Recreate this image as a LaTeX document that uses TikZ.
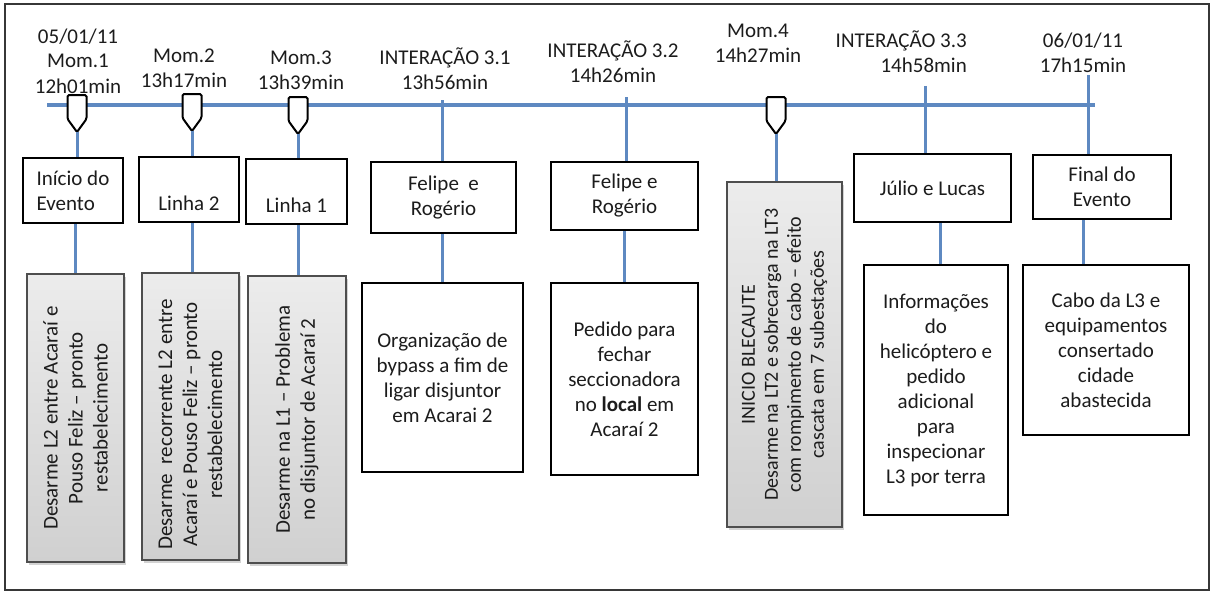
\documentclass[tikz,border=0pt]{standalone}
\usepackage{fontspec}
\setmainfont{Carlito}
\usetikzlibrary{shadows}

\definecolor{tlblue}{RGB}{94,137,193}
\definecolor{ink}{RGB}{28,28,28}
\definecolor{grayedge}{RGB}{78,78,78}
\definecolor{graytop}{RGB}{236,236,236}
\definecolor{graybot}{RGB}{208,208,208}
\definecolor{frameedge}{RGB}{55,55,55}

% pointer-shaped moment marker: #1 name of tip coordinate, #2 x, #3 top
\newcommand\momentmark[3]{%
  \draw[stamp] (#2-9.5,#3) -- (#2+9.5,#3) -- (#2+9.5,#3+24) -- (#2,#3+37)
    -- (#2-9.5,#3+24) -- cycle;
  \coordinate (#1) at (#2,#3+37);}

\begin{document}
\begin{tikzpicture}[x=1pt,y=-1pt,
  font=\fontsize{21}{25}\selectfont, text=ink,
  whitebox/.style={draw=black, line width=2.6pt, fill=white, inner sep=0pt, align=center},
  graybox/.style={draw=grayedge, line width=1.2pt, top color=graytop, bottom color=graybot,
    inner sep=0pt, drop shadow={shadow xshift=1.5pt, shadow yshift=-2.5pt, opacity=0.35}},
  vtext/.style={rotate=90, align=center, inner sep=0pt},
  stamp/.style={draw=black, line width=2pt, fill=white, rounded corners=1.5pt},
  link/.style={draw=tlblue, line width=3pt},
  stamplabel/.style={align=center, anchor=base, inner sep=0pt}
]
\useasboundingbox (0,0) rectangle (1213,594);
\draw[frameedge, line width=2.2pt] (5,4) rectangle (1209,590);

% time axis
\coordinate (tl-start) at (47,105);
\coordinate (tl-end) at (1095,105);
\draw[tlblue, line width=4pt] (tl-start) -- (tl-end);

% labels above the axis (placed by the baseline of their last line)
\node[stamplabel] (lab1) at (78,93) {05/01/11\\Mom.1\\12h01min};
\node[stamplabel] (lab2) at (184,88) {Mom.2\\13h17min};
\node[stamplabel] (lab3) at (301,89) {Mom.3\\13h39min};
\node[stamplabel] (lab4) at (445,89) {INTERAÇÃO 3.1\\13h56min};
\node[stamplabel] (lab5) at (613,83) {INTERAÇÃO 3.2\\14h26min};
\node[stamplabel] (lab6) at (758,63) {Mom.4\\14h27min};
\node[align=right, anchor=base east, inner sep=0pt] (lab7) at (967,73) {INTERAÇÃO 3.3\\14h58min};
\node[stamplabel] (lab8) at (1083,73) {06/01/11\\17h15min};

% upper boxes
\node[whitebox, align=left, minimum width=100, minimum height=65] (b1) at (73,190.5) {Início do\\Evento};
\node[whitebox, minimum width=100, minimum height=65] (b2) at (189,189.5) {\strut\\Linha 2};
\node[whitebox, minimum width=101, minimum height=65] (b3) at (296.5,191.5) {\strut\\Linha 1};
\node[whitebox, minimum width=145, minimum height=71] (b4) at (443.5,197.5) {Felipe\ \ e\\Rogério};
\node[whitebox, minimum width=147, minimum height=68] (b5) at (624.5,196) {Felipe e\\Rogério};
\node[whitebox, minimum width=157, minimum height=68] (b7) at (932.5,188) {Júlio e Lucas};
\node[whitebox, minimum width=138, minimum height=64] (b8) at (1102,187) {Final do\\Evento};

% shaded boxes with vertical text
\node[graybox, minimum width=97, minimum height=288] (gA) at (75.5,418) {};
\node[vtext] (tA) at (gA.center) {Desarme L2 entre Acaraí e\\Pouso Feliz – pronto\\restabelecimento};
\node[graybox, minimum width=97, minimum height=287] (gB) at (190.5,416.5) {};
\node[vtext] (tB) at ([yshift=-8pt]gB.center) {Desarme\ \ recorrente L2 entre\\Acaraí e Pouso Feliz – pronto\\restabelecimento};
\node[graybox, minimum width=98, minimum height=287] (gC) at (297,419.5) {};
\node[vtext] (tC) at (gC.center) {Desarme na L1 – Problema\\no disjuntor de Acaraí 2};
\node[graybox, minimum width=115, minimum height=345] (g6) at (784.5,354.5) {};
\node[vtext, font=\fontsize{20}{23}\selectfont] (t6) at (g6.center)
  {INICIO BLECAUTE\\Desarme na LT2 e sobrecarga na LT3\\com rompimento de cabo – efeito\\cascata em 7 subestações};

% lower boxes
\node[whitebox, minimum width=161, minimum height=189] (bD) at (442.5,377.5)
  {Organização de\\bypass a fim de\\ligar disjuntor\\em Acarai 2};
\node[whitebox, minimum width=147, minimum height=192] (bE) at (624.5,379)
  {Pedido para\\fechar\\seccionadora\\no \textbf{local} em\\Acaraí 2};
\node[whitebox, minimum width=144, minimum height=250] (bF) at (936,390)
  {Informações\\do\\helicóptero e\\pedido\\adicional\\para\\inspecionar\\L3 por terra};
\node[whitebox, minimum width=166, minimum height=170] (bG) at (1106,350)
  {Cabo da L3 e\\equipamentos\\consertado\\cidade\\abastecida};

% markers on the axis
\momentmark{m1}{77}{95}
\momentmark{m2}{192}{94}
\momentmark{m3}{298}{97}
\momentmark{m4}{776}{97}
\coordinate (i1) at (442,100);
\coordinate (i2) at (626,97);
\coordinate (i3) at (925,86);
\coordinate (i4) at (1088,75);

% connectors
\draw[link] (m1) -- (m1 |- b1.north);
\draw[link] (gA.north |- b1.south) -- (gA.north);
\draw[link] (m2) -- (m2 |- b2.north);
\draw[link] (m2 |- b2.south) -- (m2 |- gB.north);
\draw[link] (m3) -- (m3 |- b3.north);
\draw[link] (m3 |- b3.south) -- (m3 |- gC.north);
\draw[link] (i1) -- (i1 |- b4.north);
\draw[link] (bD.north |- b4.south) -- (bD.north);
\draw[link] (i2) -- (i2 |- b5.north);
\draw[link] (bE.north |- b5.south) -- (bE.north);
\draw[link] (m4) -- (m4 |- g6.north);
\draw[link] (i3) -- (i3 |- b7.north);
\draw[link] ([xshift=4pt]bF.north |- b7.south) -- ([xshift=4pt]bF.north);
\draw[link] (i4) -- (i4 |- b8.north);
\draw[link] ([xshift=-23pt]bG.north |- b8.south) -- ([xshift=-23pt]bG.north);
\end{tikzpicture}
\end{document}
